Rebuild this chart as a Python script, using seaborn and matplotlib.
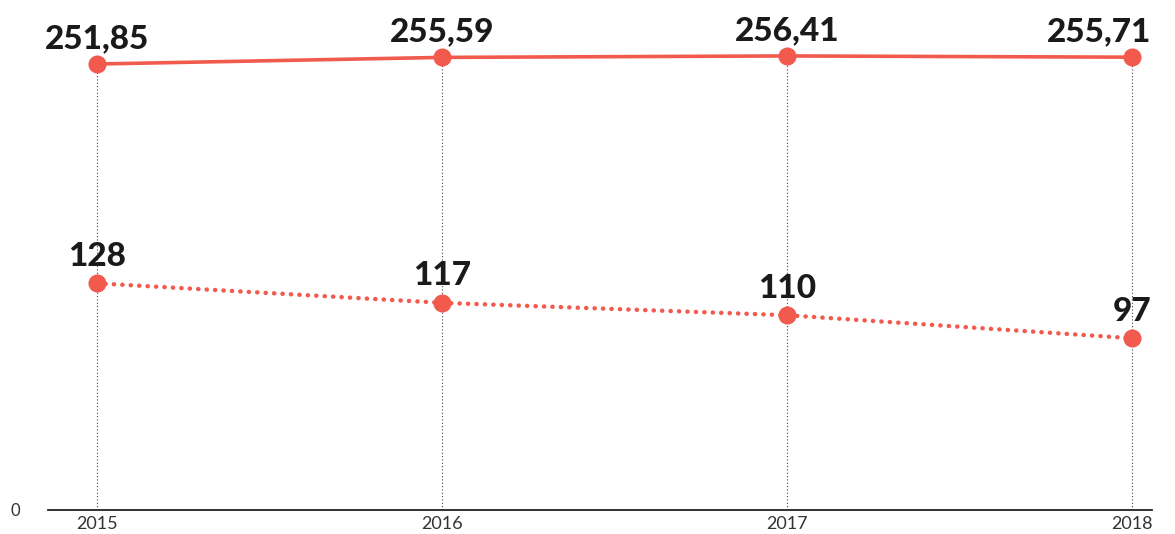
import pandas as pd
import matplotlib.pyplot as plt
import seaborn as sns

sns.set_style("white")
plt.rcParams['font.family'] = ['Lato', 'DejaVu Sans']

# -----------------------------
# Data
# -----------------------------
years = [2015, 2016, 2017, 2018]
top_values = [251.85, 255.59, 256.41, 255.71]
bottom_values = [128, 117, 110, 97]
top_labels = ["251,85", "255,59", "256,41", "255,71"]
bottom_labels = ["128", "117", "110", "97"]

red = "#F15A4D"

df = pd.DataFrame({"year": years, "top": top_values, "bottom": bottom_values})

fig = plt.figure(figsize=(11.75, 5.34), dpi=100)
ax = fig.add_axes([48 / 1175, 24 / 534, 1104 / 1175, 510 / 534])

# vertical guide lines
ax.vlines(df["year"], 0, df["top"], colors="#444444", linestyles=(0, (1, 2)),
          linewidth=0.8, zorder=1)

sns.lineplot(data=df, x="year", y="top", ax=ax, color=red, linewidth=2.6,
             marker="o", markersize=13, markeredgewidth=0, zorder=3)
sns.lineplot(data=df, x="year", y="bottom", ax=ax, color=red, linewidth=3.2,
             zorder=3)
ax.lines[-1].set_linestyle((0, (0.05, 1.85)))
ax.lines[-1].set_dash_capstyle("round")
ax.plot(df["year"], df["bottom"], "o", color=red, markersize=13,
        markeredgewidth=0, zorder=4)

# value labels
for i, (x, y, lab) in enumerate(zip(years, top_values, top_labels)):
    dx, ha = (14, "right") if i == len(years) - 1 else (0, "center")
    ax.annotate(lab, (x, y), xytext=(dx, 8), textcoords="offset points",
                ha=ha, va="bottom", fontsize=24, fontweight="black",
                color="#1a1a1a")
for x, y, lab in zip(years, bottom_values, bottom_labels):
    ax.annotate(lab, (x, y), xytext=(0, 9), textcoords="offset points",
                ha="center", va="bottom", fontsize=24, fontweight="black",
                color="#1a1a1a")

ax.set_xlim(2014.858, 2018.058)
ax.set_ylim(0, 288)
ax.set_xticks(years)
ax.set_xticklabels([str(y) for y in years])
ax.set_yticks([0])
ax.set_yticklabels(["0"])
ax.set_xlabel("")
ax.set_ylabel("")
ax.tick_params(axis="x", length=0, labelsize=13, labelcolor="#333333", pad=4)
ax.tick_params(axis="y", length=0, labelsize=12, labelcolor="#333333", pad=20)

for s in ["top", "right", "left"]:
    ax.spines[s].set_visible(False)
ax.spines["bottom"].set_color("#222222")
ax.spines["bottom"].set_linewidth(1.3)

fig.savefig("out.png", dpi=100)
